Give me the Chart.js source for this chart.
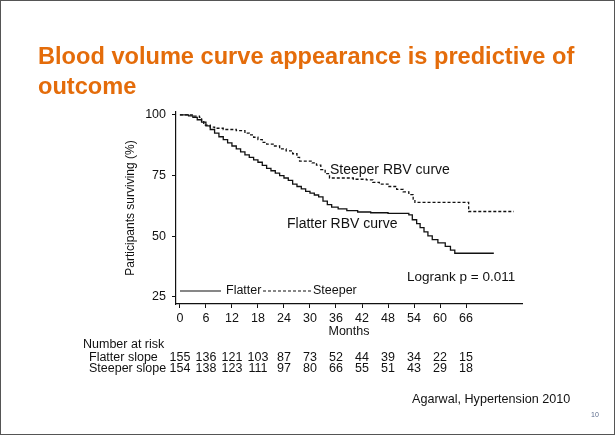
<!DOCTYPE html>
<html>
<head>
<meta charset="utf-8">
<script src="https://cdn.jsdelivr.net/npm/chart.js@4.4.1/dist/chart.umd.min.js"></script>
<style>
  html, body { margin: 0; padding: 0; background: #fff; }
  #slide { position: relative; width: 615px; height: 435px; font-family: "Liberation Sans", Arial, sans-serif; overflow: hidden; }
  #frame { position: absolute; left: 0; top: 0; width: 615px; height: 435px; box-sizing: border-box; border: 1px solid #555; pointer-events: none; }
  #chartBox { position: absolute; left: 0; top: 0; width: 615px; height: 435px; }
  .title { position: absolute; left: 38px; top: 41px; color: #E46C0A; font-size: 23.6px; font-weight: bold; line-height: 30px; white-space: nowrap; }
  .cite { position: absolute; left: 412px; top: 392px; font-size: 12.6px; color: #111; white-space: nowrap; }
  .page { position: absolute; left: 591px; top: 411px; font-size: 7px; color: #5b6b8c; }
</style>
</head>
<body>
<div id="slide">
  <div id="chartBox"><canvas id="kmChart"></canvas></div>
  <div class="title">Blood volume curve appearance is predictive of<br>outcome</div>
  <div class="cite">Agarwal, Hypertension 2010</div>
  <div class="page">10</div>
  <div id="frame"></div>
</div>
<script>
// Kaplan-Meier steps (months, % surviving)
const flatterMonths = [0, 2, 3, 4, 5, 6, 7, 8, 9, 10, 11, 12, 13, 14, 15, 16, 17, 18, 19, 20,
  21, 22, 23, 24, 25, 26, 27, 28, 29, 30, 31, 32, 33, 34, 35, 36.5, 38.5, 41, 44, 48,
  52.8, 53.6, 54.6, 55.4, 56.3, 57.2, 58.2, 59.5, 61.2, 62.4, 63.4, 72.4];
const flatterSurv = [100, 99.6, 99, 98, 97, 95.5, 94, 92.5, 91, 89.8, 88.5, 87.2, 86, 84.8, 83.5, 82.5, 81.5, 80.5, 79.2, 78,
  77, 76, 75, 74, 73, 71.5, 70.5, 69.5, 68.5, 67.8, 67, 66.2, 64.5, 63, 62, 61.3, 60.6, 60, 59.7, 59.4,
  58.8, 56.8, 55.2, 53.6, 51.8, 50.2, 48.6, 47.3, 45.8, 44.3, 43, 43];

const steeperMonths = [0, 2, 3, 4.5, 5, 5.5, 7, 8, 10, 13, 15, 16, 17, 18, 19, 20, 21.5, 23, 24.5, 26,
  27, 27.6, 30.5, 31.5, 32.5, 33.5, 34.5, 40, 43, 44.5, 46, 48, 50, 51.5, 52.8, 53.8, 54.2, 66.6, 77];
const steeperSurv = [100, 100, 99.5, 99, 97.5, 95.8, 95, 94.5, 94, 93.5, 92.5, 91.8, 90.8, 89.8, 88.7, 88, 87.2, 86, 85.2, 84,
  82.5, 81, 80.2, 79.3, 77.5, 75.8, 74, 73.5, 73.2, 72.2, 71.5, 70.5, 69.3, 68.3, 67.2, 65.3, 64, 60.2, 60.2];

const monthTicks = [0, 6, 12, 18, 24, 30, 36, 42, 48, 54, 60, 66];
const survTicks = [25, 50, 75, 100];

// number at risk, one value per month tick
const riskFlatter = [155, 136, 121, 103, 87, 73, 52, 44, 39, 34, 22, 15];
const riskSteeper = [154, 138, 123, 111, 97, 80, 66, 55, 51, 43, 29, 18];

const ink = '#111';
const fontFam = '"Liberation Sans", Arial, sans-serif';

// text on the plot: curve names, logrank, legend, risk table
const slideText = {
  id: 'slideText',
  afterDatasetsDraw(chart) {
    const c = chart.ctx;
    const xs = chart.scales.x;
    c.save();
    c.fillStyle = ink;
    c.textBaseline = 'middle';
    c.textAlign = 'left';
    c.font = '14px ' + fontFam;
    c.fillText('Steeper RBV curve', 330, 170);
    c.fillText('Flatter RBV curve', 287, 224);
    c.font = '13.5px ' + fontFam;
    c.fillText('Logrank p = 0.011', 407, 277);

    // legend
    const ds = chart.data.datasets;
    c.strokeStyle = ink;
    c.lineWidth = 1.2;
    c.beginPath(); c.moveTo(180, 291); c.lineTo(221, 291); c.stroke();
    c.font = '12.5px ' + fontFam;
    c.fillText(ds[0].label, 226, 291);
    c.setLineDash([3, 2]);
    c.beginPath(); c.moveTo(263, 291); c.lineTo(311, 291); c.stroke();
    c.setLineDash([]);
    c.fillText(ds[1].label, 313, 291);

    // number at risk
    c.font = '12.5px ' + fontFam;
    c.fillText('Number at risk', 83, 345);
    c.fillText('Flatter slope', 89, 358);
    c.fillText('Steeper slope', 89, 369);
    c.textAlign = 'center';
    monthTicks.forEach((m, i) => {
      const px = xs.getPixelForValue(m);
      c.fillText(String(riskFlatter[i]), px, 358);
      c.fillText(String(riskSteeper[i]), px, 369);
    });
    c.restore();
  }
};

const ctx = document.getElementById('kmChart').getContext('2d');

new Chart(ctx, {
  type: 'line',
  data: {
    datasets: [
      {
        label: 'Flatter',
        data: flatterMonths.map((m, i) => ({ x: m, y: flatterSurv[i] })),
        borderColor: ink,
        borderWidth: 1.3,
        stepped: 'before',
        pointRadius: 0,
        fill: false
      },
      {
        label: 'Steeper',
        data: steeperMonths.map((m, i) => ({ x: m, y: steeperSurv[i] })),
        borderColor: ink,
        borderWidth: 1.3,
        borderDash: [3, 2],
        stepped: 'before',
        pointRadius: 0,
        fill: false
      }
    ]
  },
  options: {
    responsive: true,
    maintainAspectRatio: false,
    animation: false,
    layout: { padding: { left: 119, top: 112, right: 93, bottom: 91 } },
    plugins: {
      legend: { display: false },
      tooltip: { enabled: false }
    },
    scales: {
      x: {
        type: 'linear',
        min: -0.9,
        max: 78.9,
        afterBuildTicks: (s) => { s.ticks = monthTicks.map(v => ({ value: v })); },
        afterFit: (s) => { s.height = 40; },
        border: { display: true, color: ink, width: 1.2 },
        grid: { drawOnChartArea: false, drawTicks: true, tickLength: 4, color: ink },
        ticks: { color: ink, padding: 3, maxRotation: 0, autoSkip: false, font: { family: fontFam, size: 12.5 } },
        title: { display: true, text: 'Months', color: ink, padding: { top: 0, bottom: 5 }, font: { family: fontFam, size: 12.5 } }
      },
      y: {
        type: 'linear',
        min: 22.1,
        max: 101.2,
        afterBuildTicks: (s) => { s.ticks = survTicks.map(v => ({ value: v })); },
        afterFit: (s) => { s.width = 57; },
        border: { display: true, color: ink, width: 1.2 },
        grid: { drawOnChartArea: false, drawTicks: true, tickLength: 4, color: ink },
        ticks: { color: ink, padding: 6, font: { family: fontFam, size: 12.5 } },
        title: { display: true, text: 'Participants surviving (%)', color: ink, padding: { top: 4, bottom: 0 }, font: { family: fontFam, size: 12 } }
      }
    }
  },
  plugins: [slideText]
});
</script>
</body>
</html>
